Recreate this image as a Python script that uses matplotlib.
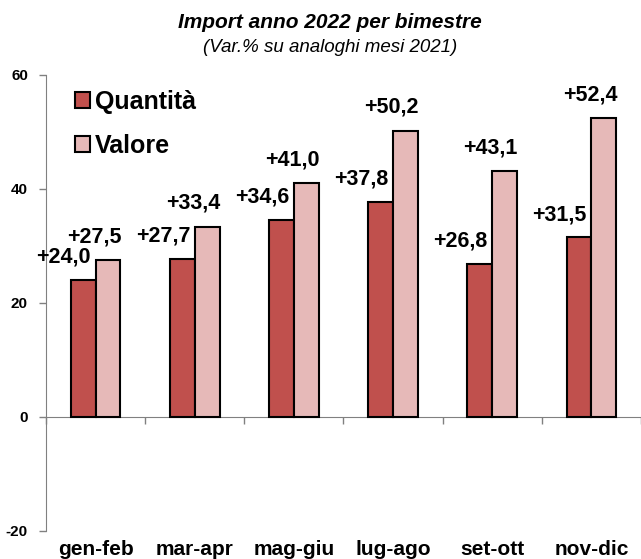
import numpy as np
import matplotlib
matplotlib.use("Agg")
import matplotlib.pyplot as plt

plt.rcParams["font.family"] = ["Liberation Sans", "DejaVu Sans"]

bimestri = ["gen-feb", "mar-apr", "mag-giu", "lug-ago", "set-ott", "nov-dic"]
quantita = [24.0, 27.7, 34.6, 37.8, 26.8, 31.5]
valore = [27.5, 33.4, 41.0, 50.2, 43.1, 52.4]
y_ticks = [-20, 0, 20, 40, 60]

col_q = "#C0504D"
col_v = "#E6B9B8"
grey = "#808080"

fig = plt.figure(figsize=(6.41, 5.59), dpi=100)
ax = fig.add_axes([46 / 641, 1 - 531 / 559, 1 - 46 / 641, (531 - 75) / 559])

x = np.arange(len(bimestri))
w = 0.25
ax.bar(x - w / 2, quantita, w, color=col_q, edgecolor="black", linewidth=1.5, label="Quantità", zorder=3)
ax.bar(x + w / 2, valore, w, color=col_v, edgecolor="black", linewidth=1.5, label="Valore", zorder=3)

def fmt(v):
    return "+" + f"{v:.1f}".replace(".", ",")

for xi, v in zip(x, quantita):
    ax.annotate(fmt(v), (xi - w / 2, v), xytext=(-14, 16.5), textcoords="offset points",
                ha="center", va="center", fontsize=15.5, fontweight="bold")
for xi, v in zip(x, valore):
    ax.annotate(fmt(v), (xi + w / 2, v), xytext=(-10, 17), textcoords="offset points",
                ha="center", va="center", fontsize=15.5, fontweight="bold")

ax.set_xlim(-0.5, len(bimestri) - 0.5)
ax.set_ylim(-20, 60)
ax.set_yticks(y_ticks)
ax.set_yticklabels([str(t) for t in y_ticks], fontsize=11, fontweight="bold")
ax.tick_params(axis="y", length=5, width=1, color=grey, pad=8)

# x axis sits on zero, category names go at the bottom
ax.spines["bottom"].set_position(("data", 0))
ax.spines["bottom"].set_color(grey)
ax.spines["left"].set_color(grey)
ax.spines["top"].set_visible(False)
ax.spines["right"].set_visible(False)
ax.set_xticks(np.arange(len(bimestri) + 1) - 0.5)
ax.set_xticklabels([])
ax.tick_params(axis="x", length=5, width=1, color=grey, direction="out")

for xi, lab in zip(x, bimestri):
    ax.annotate(lab, (xi, -20), xytext=(0, -13), textcoords="offset points",
                ha="center", va="center", fontsize=15, fontweight="bold",
                annotation_clip=False)

ax.legend(loc="upper left", bbox_to_anchor=(0.049, 0.968), frameon=False,
          prop={"size": 18, "weight": "bold"}, handlelength=0.6, handleheight=0.6,
          handletextpad=0.2, labelspacing=0.82, borderpad=0, borderaxespad=0)

fig.text(0.515, 1 - 22 / 559, "Import anno 2022 per bimestre", ha="center", va="center",
         fontsize=15, fontweight="bold", fontstyle="italic")
fig.text(0.515, 1 - 48 / 559, "(Var.% su analoghi mesi 2021)", ha="center", va="center",
         fontsize=13.5, fontstyle="italic")

fig.savefig("out.png", dpi=100)
